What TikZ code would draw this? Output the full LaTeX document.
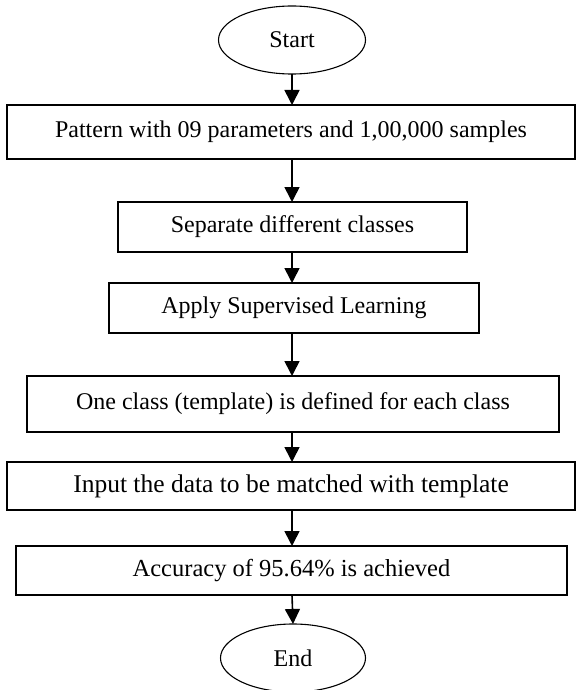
\documentclass[tikz,border=0pt]{standalone}
\usepackage{fontspec}
\setmainfont{Liberation Serif}
\usetikzlibrary{arrows.meta,shapes.geometric}
\begin{document}
\begin{tikzpicture}[x=1pt,y=-1pt,
  every node/.style={font=\fontsize{24}{27}\selectfont, inner sep=0pt, outer sep=0pt},
  procbox/.style={draw=black, line width=1.1pt, rectangle, fill=white},
  term/.style={draw=black, line width=1.1pt, ellipse, fill=white},
  flow/.style={line width=1.6pt, -{Triangle[width=15pt,length=15pt]}}]
\useasboundingbox (0,0) rectangle (576,690);
\fill[white] (0,0) rectangle (576,690);
\node[term, minimum width=147pt, minimum height=68pt] (start) at (292,40) {Start};
\node[procbox, minimum width=568pt, minimum height=54pt] (b1) at (291,132) {Pattern with 09 parameters and 1,00,000 samples};
\node[procbox, minimum width=349pt, minimum height=50pt] (b2) at (292.5,227) {Separate different classes};
\node[procbox, minimum width=370pt, minimum height=50pt] (b3) at (294,308) {Apply Supervised Learning};
\node[procbox, minimum width=532pt, minimum height=56pt] (b4) at (293,404) {One class (template) is defined for each class};
\node[procbox, minimum width=568pt, minimum height=48pt, font=\fontsize{25.5}{28}\selectfont] (b5) at (291,486) {Input the data to be matched with template};
\node[procbox, minimum width=551pt, minimum height=49pt, font=\fontsize{24.5}{27}\selectfont] (b6) at (291.5,570.5) {Accuracy of 95.64\% is achieved};
\node[term, minimum width=145pt, minimum height=68pt] (end) at (293,658) {End};
\draw[flow] (start.south) -- (start.south |- b1.north);
\draw[flow] (start.south |- b1.south) -- (start.south |- b2.north);
\draw[flow] (start.south |- b2.south) -- (start.south |- b3.north);
\draw[flow] (start.south |- b3.south) -- (start.south |- b4.north);
\draw[flow] (start.south |- b4.south) -- (start.south |- b5.north);
\draw[flow] (start.south |- b5.south) -- (start.south |- b6.north);
\draw[flow] (start.south |- b6.south) -- (end.north);
\end{tikzpicture}
\end{document}
